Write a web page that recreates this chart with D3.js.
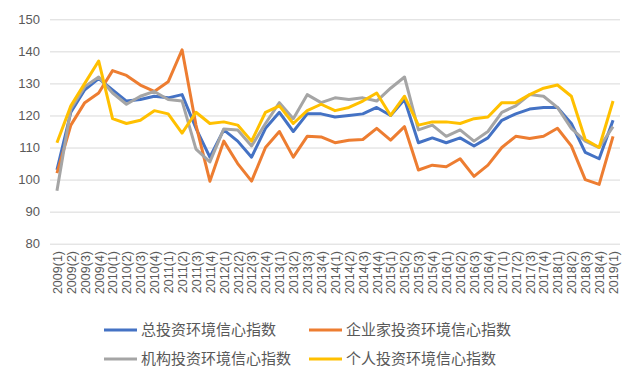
<!DOCTYPE html>
<html>
<head>
<meta charset="utf-8">
<script src="https://cdn.jsdelivr.net/npm/d3@7"></script>
<style>
	body { margin: 0; background: #fff; }
	svg { display: block; font-family: "Noto Sans CJK SC", "Noto Sans", sans-serif; }
	.grid line { stroke: #d9d9d9; stroke-width: 1; }
	.grid path { display: none; }
	.axis text { fill: #595959; }
	.axis path, .axis line { display: none; }
	.line { fill: none; stroke-width: 3; stroke-linejoin: round; }
</style>
</head>
<body>
<div id="chart"></div>
<script>
const width = 640;
const height = 384;

// quarters 2009(1) .. 2019(1)
const quarters = [];
for (let y = 2009; y <= 2019; y++) {
	for (let q = 1; q <= 4; q++) {
		if (y == 2019 && q > 1) break;
		quarters.push(y + "(" + q + ")");
	}
}

const yTicks = [80, 90, 100, 110, 120, 130, 140, 150];

const seriesNames = ["总投资环境信心指数", "企业家投资环境信心指数", "机构投资环境信心指数", "个人投资环境信心指数"];
const seriesColors = ["#4472C4", "#ED7D31", "#A5A5A5", "#FFC000"];

const totalIdx = [103, 121, 128, 131.5, 128, 124.5, 125, 126, 125.5, 126.5,
	116, 107, 115.5, 112, 107, 116, 121, 115, 120.5, 120.5,
	119.5, 120, 120.5, 122.5, 120, 125, 111.5, 113, 111.5, 113,
	110.5, 113, 118.5, 120.5, 122, 122.5, 122.5, 117.5, 108.5, 106.5, 118.5];

const entrepreneurIdx = [102, 117, 124, 127, 134, 132.5, 129.5, 127.5, 130.5, 140.5,
	117, 99.5, 112, 105, 99.5, 110, 115, 107, 113.5, 113.3,
	111.5, 112.3, 112.5, 116, 112.3, 116.5, 103, 104.5, 104, 106.5,
	101, 104.5, 110, 113.5, 112.8, 113.5, 116, 110.5, 100, 98.5, 113.5];

const institutionIdx = [96.5, 122, 129, 132, 127, 123.5, 126, 127.5, 125, 124.5,
	109.5, 105.5, 115.8, 115.5, 110.5, 117.5, 124, 119, 126.5, 124,
	125.5, 125, 125.5, 124.5, 128.5, 132, 115.5, 117, 113.5, 115.5,
	112, 115, 121, 123, 126.5, 126, 122.5, 116, 112, 110, 116.5];

const personalIdx = [111.5, 123, 130, 137, 119, 117.5, 118.5, 121.5, 120.5, 114.5,
	121, 117.5, 118, 117, 112, 121, 123, 117.5, 121.5, 123.5,
	121.5, 122.5, 124.5, 127, 120, 126, 117, 118, 118, 117.5,
	119, 119.5, 124, 124, 126.5, 128.5, 129.5, 126, 112.5, 110, 124.5];

const allSeries = [totalIdx, entrepreneurIdx, institutionIdx, personalIdx];

const svg = d3.select("#chart").append("svg")
	.attr("width", width)
	.attr("height", height);

const xScale = d3.scalePoint()
	.domain(quarters)
	.range([50, 620])
	.padding(0.5);

const yScale = d3.scaleLinear()
	.domain([80, 150])
	.range([243.7, 19.3]);

// background grid
svg.append("g")
	.attr("class", "grid")
	.attr("transform", "translate(50,0)")
	.call(d3.axisRight(yScale).tickValues(yTicks).tickSize(570).tickFormat(""));

// y axis labels
svg.append("g")
	.attr("class", "axis")
	.attr("transform", "translate(40,0)")
	.call(d3.axisLeft(yScale).tickValues(yTicks).tickSize(0).tickPadding(0))
	.selectAll("text")
	.style("font-size", "13px");

// x axis labels, rotated
svg.append("g")
	.attr("class", "axis")
	.attr("transform", "translate(0,251)")
	.call(d3.axisBottom(xScale).tickSize(0).tickPadding(0))
	.selectAll("text")
	.style("font-size", "12.5px")
	.attr("text-anchor", "end")
	.attr("dy", "0.35em")
	.attr("transform", "rotate(-90)")
	.attr("x", 0)
	.attr("y", 0);

// lines
const line = d3.line()
	.x(function(d, i) { return xScale(quarters[i]); })
	.y(function(d) { return yScale(d); });

allSeries.forEach(function(s, k) {
	svg.append("path")
		.datum(s)
		.attr("class", "line")
		.attr("stroke", seriesColors[k])
		.attr("d", line);
});

// legend
const legendPos = [[104, 330], [309, 330], [104, 359], [309, 359]];
seriesNames.forEach(function(name, k) {
	let g = svg.append("g").attr("transform", "translate(" + legendPos[k][0] + "," + legendPos[k][1] + ")");
	g.append("line")
		.attr("x1", 0).attr("x2", 33)
		.attr("y1", 0).attr("y2", 0)
		.attr("stroke", seriesColors[k])
		.attr("stroke-width", 3);
	g.append("text")
		.attr("x", 37)
		.attr("y", 0)
		.attr("dy", "0.35em")
		.style("font-size", "15px")
		.attr("fill", "#595959")
		.text(name);
});
</script>
</body>
</html>
